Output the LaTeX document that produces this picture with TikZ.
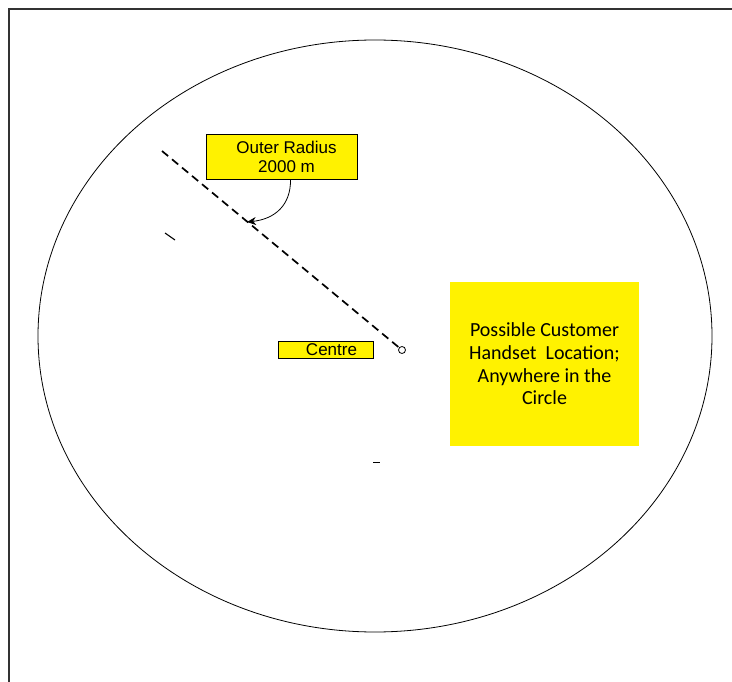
\documentclass[tikz,border=0pt]{standalone}
\usepackage{fontspec}
\setmainfont{Liberation Sans}
\newfontfamily\calfont{Carlito}
\usetikzlibrary{arrows.meta}

\begin{document}
\begin{tikzpicture}[x=1pt, y=-1pt, >={Stealth[length=9pt, width=8pt]},
    label box/.style={draw, fill=yellow, line width=0.8pt, inner sep=0pt, align=center, font=\fontsize{17}{19}\selectfont},
    note box/.style={fill=yellow, inner sep=0pt, align=center, font=\calfont\fontsize{20}{22.7}\selectfont}]
    \useasboundingbox (0,0) rectangle (732,682);

    % Frame (only top and left edges fall inside the picture)
    \draw[line width=1.5pt, black!80] (9,682) -- (9,9) -- (732,9);

    % Coverage circle
    \draw[line width=0.8pt] (375,336) ellipse (337 and 296);

    % Centre point and radius
    \node (ctr) at (402,350) [circle, draw, line width=0.8pt, fill=white, minimum size=7pt, inner sep=0pt] {};
    \coordinate (rim) at (162,151);
    \coordinate (hit) at (247,222);
    \draw[line width=1.7pt, dash pattern=on 8pt off 5pt] (rim) -- (ctr);

    % Stray ticks
    \draw[line width=1.1pt] (165,233) -- (175,240);
    \draw[line width=1pt] (373,462) -- (380,462);

    % Labels
    \node (outer) at (281.5,156.5) [label box, minimum width=151pt, minimum height=45pt] {\hspace{10pt}Outer Radius\\\hspace{10pt}2000 m};
    \node (centre) at (325.5,349.5) [label box, minimum width=95pt, minimum height=17pt] {\hspace{12pt}Centre};
    \node (handset) at (544.5,364) [note box, minimum width=189pt, minimum height=164pt] {Possible Customer\\Handset\ \ Location;\\Anywhere in the\\Circle};

    % Pointer to the radius
    \draw[->, line width=0.8pt] ([xshift=9pt]outer.south) .. controls (291,205) and (275,219) .. (hit);
\end{tikzpicture}
\end{document}
